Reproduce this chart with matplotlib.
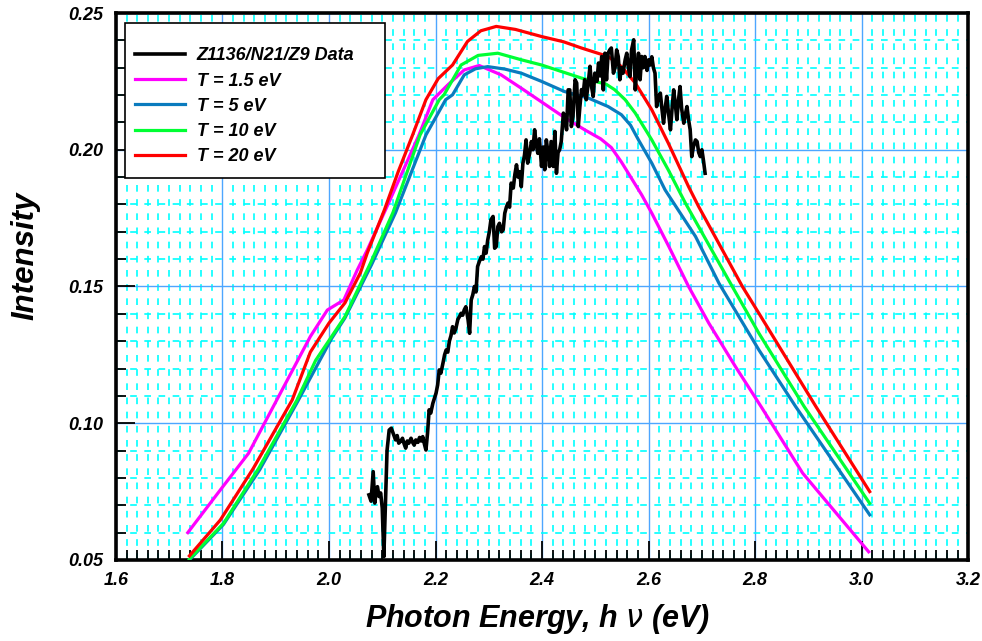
import matplotlib
matplotlib.use('Agg')
import matplotlib.pyplot as plt
from matplotlib.patches import Rectangle
from matplotlib.ticker import MultipleLocator, FormatStrFormatter

plt.rcParams['font.family'] = ['Liberation Sans', 'DejaVu Sans']

# measured spectrum Z1136/N21/Z9
data_x = [2.075, 2.079, 2.083, 2.086, 2.089, 2.091, 2.094, 2.097, 2.100, 2.103,
          2.106, 2.109, 2.113, 2.117, 2.121, 2.125, 2.128, 2.131, 2.135, 2.138,
          2.141, 2.144, 2.147, 2.150, 2.154, 2.157, 2.160, 2.163, 2.167, 2.170,
          2.173, 2.176, 2.179, 2.182, 2.185, 2.188, 2.191, 2.195, 2.198, 2.201,
          2.204, 2.207, 2.210, 2.214, 2.217, 2.220, 2.223, 2.226, 2.229, 2.232,
          2.235, 2.238, 2.242, 2.245, 2.248, 2.251, 2.254, 2.257, 2.261, 2.264,
          2.267, 2.270, 2.273, 2.276, 2.279, 2.282, 2.286, 2.289, 2.292, 2.295,
          2.298, 2.301, 2.304, 2.308, 2.311, 2.314, 2.317, 2.320, 2.324, 2.327,
          2.330, 2.333, 2.336, 2.339, 2.342, 2.346, 2.349, 2.352, 2.355, 2.358,
          2.361, 2.364, 2.367, 2.370, 2.373, 2.377, 2.380, 2.383, 2.386, 2.389,
          2.392, 2.395, 2.399, 2.402, 2.405, 2.408, 2.411, 2.414, 2.417, 2.421,
          2.424, 2.427, 2.430, 2.433, 2.436, 2.440, 2.443, 2.446, 2.449, 2.452,
          2.455, 2.458, 2.462, 2.465, 2.468, 2.471, 2.474, 2.477, 2.480, 2.483,
          2.487, 2.490, 2.493, 2.496, 2.499, 2.503, 2.506, 2.509, 2.512, 2.515,
          2.518, 2.521, 2.524, 2.527, 2.530, 2.534, 2.537, 2.540, 2.543, 2.546,
          2.549, 2.552, 2.556, 2.559, 2.562, 2.565, 2.568, 2.572, 2.575, 2.578,
          2.581, 2.584, 2.587, 2.590, 2.593, 2.597, 2.600, 2.603, 2.606, 2.609,
          2.612, 2.615, 2.618, 2.622, 2.625, 2.628, 2.631, 2.634, 2.637, 2.641,
          2.644, 2.647, 2.650, 2.653, 2.656, 2.659, 2.662, 2.666, 2.669, 2.672,
          2.675, 2.678, 2.681, 2.684, 2.688, 2.691, 2.694, 2.697, 2.700, 2.703,
          2.706]
data_y = [0.0738, 0.0715, 0.0823, 0.0708, 0.0760, 0.0768, 0.0732, 0.0745, 0.0690, 0.0512,
          0.0700, 0.0900, 0.0975, 0.0982, 0.0960, 0.0939, 0.0955, 0.0927, 0.0935, 0.0945,
          0.0925, 0.0909, 0.0935, 0.0927, 0.0945, 0.0930, 0.0920, 0.0939, 0.0930, 0.0948,
          0.0935, 0.0951, 0.0925, 0.0902, 0.0963, 0.1049, 0.1037, 0.1073, 0.1091, 0.1110,
          0.1140, 0.1195, 0.1183, 0.1220, 0.1250, 0.1268, 0.1260, 0.1300, 0.1320, 0.1353,
          0.1330, 0.1345, 0.1380, 0.1390, 0.1402, 0.1395, 0.1415, 0.1426, 0.1380, 0.1329,
          0.1451, 0.1470, 0.1500, 0.1480, 0.1573, 0.1590, 0.1609, 0.1600, 0.1646, 0.1622,
          0.1670, 0.1700, 0.1744, 0.1756, 0.1640, 0.1646, 0.1719, 0.1731, 0.1700, 0.1707,
          0.1768, 0.1790, 0.1805, 0.1790, 0.1878, 0.1860, 0.1910, 0.1945, 0.1900, 0.1920,
          0.1865, 0.1950, 0.1980, 0.2036, 0.1951, 0.1990, 0.2030, 0.2000, 0.2073, 0.2020,
          0.1987, 0.2040, 0.1939, 0.2010, 0.1927, 0.2036, 0.1990, 0.1939, 0.2030, 0.1939,
          0.2067, 0.1914, 0.1990, 0.2000, 0.2030, 0.2134, 0.2110, 0.2073, 0.2219, 0.2219,
          0.2085, 0.2121, 0.2256, 0.2244, 0.2085, 0.2158, 0.2220, 0.2200, 0.2256, 0.2183,
          0.2250, 0.2305, 0.2230, 0.2195, 0.2280, 0.2250, 0.2317, 0.2270, 0.2341, 0.2219,
          0.2353, 0.2256, 0.2353, 0.2365, 0.2372, 0.2280, 0.2300, 0.2365, 0.2341, 0.2256,
          0.2300, 0.2280, 0.2329, 0.2353, 0.2300, 0.2268, 0.2365, 0.2402, 0.2219, 0.2300,
          0.2353, 0.2256, 0.2341, 0.2300, 0.2341, 0.2290, 0.2329, 0.2310, 0.2340, 0.2300,
          0.2280, 0.2158, 0.2190, 0.2207, 0.2150, 0.2097, 0.2150, 0.2195, 0.2140, 0.2073,
          0.2150, 0.2219, 0.2170, 0.2110, 0.2180, 0.2231, 0.2150, 0.2097, 0.2130, 0.2158,
          0.2110, 0.2073, 0.1975, 0.2010, 0.2036, 0.2030, 0.1990, 0.1975, 0.2000, 0.1960,
          0.1914]

# model spectra
t15_x = [1.735, 1.796, 1.849, 1.902, 1.965, 1.997, 2.028, 2.053, 2.072, 2.110,
         2.169, 2.195, 2.223, 2.254, 2.282, 2.323, 2.361, 2.380, 2.442, 2.480,
         2.510, 2.530, 2.549, 2.587, 2.606, 2.638, 2.675, 2.713, 2.763, 2.813,
         2.889, 3.013]
t15_y = [0.0600, 0.0756, 0.0890, 0.1085, 0.1317, 0.1414, 0.1451, 0.1560, 0.1634, 0.1797,
         0.2054, 0.2183, 0.2237, 0.2292, 0.2308, 0.2274, 0.2225, 0.2200, 0.2118, 0.2073,
         0.2040, 0.2008, 0.1955, 0.1835, 0.1768, 0.1646, 0.1500, 0.1366, 0.1207, 0.1055,
         0.0818, 0.0530]

t5_x = [1.738, 1.802, 1.870, 1.940, 2.005, 2.030, 2.080, 2.125, 2.182, 2.219,
        2.232, 2.254, 2.275, 2.298, 2.330, 2.361, 2.399, 2.442, 2.487, 2.524,
        2.549, 2.566, 2.581, 2.606, 2.631, 2.688, 2.732, 2.807, 2.876, 3.015]
t5_y = [0.0500, 0.0630, 0.0830, 0.1075, 0.1310, 0.1385, 0.1580, 0.1770, 0.2054, 0.2183,
        0.2201, 0.2274, 0.2296, 0.2304, 0.2295, 0.2280, 0.2250, 0.2213, 0.2189, 0.2158,
        0.2128, 0.2090, 0.2036, 0.1951, 0.1853, 0.1683, 0.1512, 0.1268, 0.1061, 0.0665]

t10_x = [1.738, 1.802, 1.868, 1.940, 1.975, 2.005, 2.030, 2.078, 2.120, 2.171,
         2.207, 2.216, 2.248, 2.280, 2.317, 2.361, 2.399, 2.474, 2.520, 2.536,
         2.556, 2.575, 2.606, 2.637, 2.669, 2.757, 2.807, 2.892, 3.015]
t10_y = [0.0503, 0.0634, 0.0835, 0.1085, 0.1230, 0.1317, 0.1390, 0.1586, 0.1770, 0.2054,
         0.2183, 0.2201, 0.2310, 0.2345, 0.2353, 0.2329, 0.2310, 0.2262, 0.2240, 0.2220,
         0.2183, 0.2134, 0.2036, 0.1926, 0.1805, 0.1500, 0.1329, 0.1061, 0.0707]

t20_x = [1.738, 1.796, 1.858, 1.931, 1.965, 2.000, 2.030, 2.059, 2.072, 2.104,
         2.130, 2.157, 2.182, 2.205, 2.232, 2.260, 2.285, 2.314, 2.350, 2.399,
         2.440, 2.474, 2.524, 2.549, 2.575, 2.606, 2.637, 2.675, 2.694, 2.776,
         2.807, 2.914, 3.015]
t20_y = [0.0515, 0.0646, 0.0835, 0.1085, 0.1260, 0.1366, 0.1440, 0.1550, 0.1623, 0.1780,
         0.1920, 0.2054, 0.2183, 0.2260, 0.2310, 0.2396, 0.2435, 0.2451, 0.2440, 0.2414,
         0.2395, 0.2372, 0.2341, 0.2304, 0.2244, 0.2146, 0.2024, 0.1865, 0.1792, 0.1500,
         0.1402, 0.1061, 0.0750]

bi = {'family': ['Liberation Sans', 'DejaVu Sans'], 'weight': 'bold', 'style': 'italic'}

fig = plt.figure(figsize=(9.82, 6.41), dpi=100)
ax = fig.add_axes([0.118, 0.1264, 0.868, 0.8533])

ax.plot(data_x, data_y, color='black', lw=2.6, zorder=6, label='Z1136/N21/Z9 Data')
ax.plot(t15_x, t15_y, color='#FF00FF', lw=2.3, zorder=3, label='T = 1.5 eV')
ax.plot(t5_x, t5_y, color='#0A7BBE', lw=2.3, zorder=3, label='T = 5 eV')
ax.plot(t10_x, t10_y, color='#00FF33', lw=2.3, zorder=4, label='T = 10 eV')
ax.plot(t20_x, t20_y, color='#FF0000', lw=2.3, zorder=5, label='T = 20 eV')

ax.set_xlim(1.6, 3.2)
ax.set_ylim(0.05, 0.25)
ax.xaxis.set_major_locator(MultipleLocator(0.2))
ax.xaxis.set_minor_locator(MultipleLocator(0.02))
ax.yaxis.set_major_locator(MultipleLocator(0.05))
ax.yaxis.set_minor_locator(MultipleLocator(0.01))
ax.xaxis.set_major_formatter(FormatStrFormatter('%.1f'))
ax.yaxis.set_major_formatter(FormatStrFormatter('%.2f'))

ax.grid(which='minor', color='#00FFFF', lw=1.2, linestyle=(0, (4, 4.5)), zorder=1)
ax.grid(which='major', color='#4DA6FF', lw=1.0, linestyle='-', zorder=2)
ax.set_axisbelow(True)

for s in ax.spines.values():
    s.set_linewidth(2.6)
ax.tick_params(which='major', direction='in', length=14, width=1.3, pad=9,
               top=False, right=False)
ax.tick_params(which='minor', direction='in', length=7, width=1.3,
               top=False, right=False)
for lab in ax.get_xticklabels() + ax.get_yticklabels():
    lab.set_fontfamily(['Liberation Sans', 'DejaVu Sans'])
    lab.set_fontweight('bold')
    lab.set_fontstyle('italic')
    lab.set_fontsize(13)

ax.set_xlabel('Photon Energy, h $\\nu$ (eV)', fontdict=dict(bi, size=22))
ax.set_ylabel('Intensity', fontdict=dict(bi, size=22.5))
ax.xaxis.set_label_coords(0.495, -0.077)
ax.yaxis.set_label_coords(-0.089, 0.557)

# legend box drawn separately so its padding matches the original
ax.add_patch(Rectangle((0.0106, 0.6984), 0.3051, 0.2833, transform=ax.transAxes,
                       facecolor='white', edgecolor='black', lw=1.2, zorder=9))
leg = ax.legend(loc='upper left', bbox_to_anchor=(0.0223, 0.937), borderaxespad=0,
                prop=dict(bi, size=13), handlelength=2.77, handletextpad=0.66,
                labelspacing=0.45, borderpad=0, frameon=False)
leg.set_zorder(10)

fig.savefig('out.png', dpi=100)
